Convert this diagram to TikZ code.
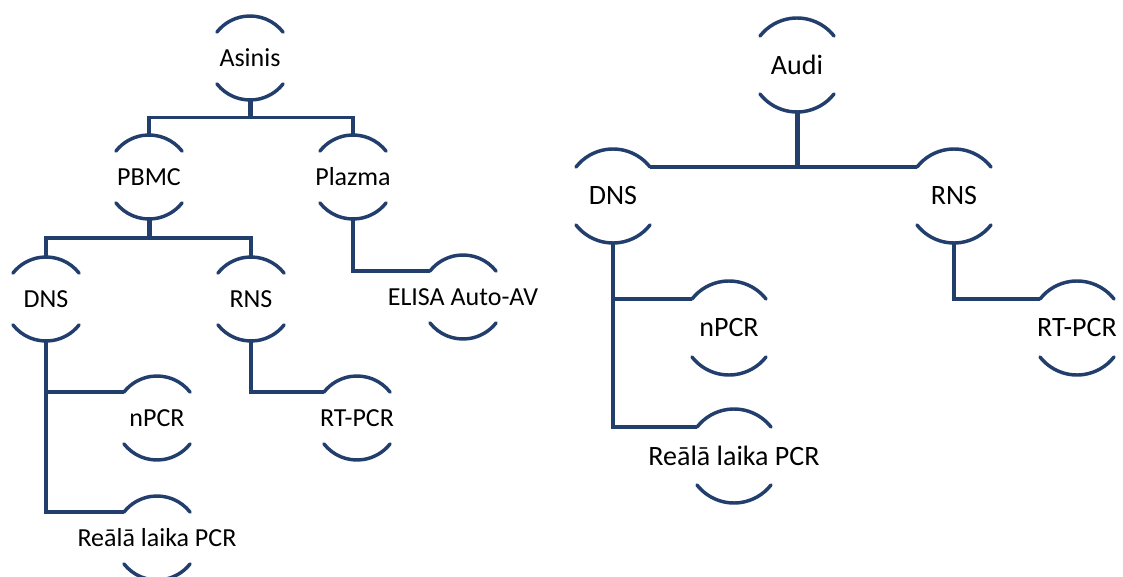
\documentclass[tikz,border=0pt]{standalone}
\usepackage{fontspec}
\setmainfont{Carlito}
\usepackage{tikz}
\usetikzlibrary{calc}
\definecolor{arcblue}{RGB}{34,62,108}

\begin{document}
\begin{tikzpicture}[x=0.75pt, y=0.75pt,
  lbl/.style={inner sep=0pt, minimum height=63pt, minimum width=49.5pt, font=\fontsize{19.5}{23}\selectfont},
  big/.style={lbl, minimum height=70.5pt, minimum width=55.5pt, font=\fontsize{21}{25}\selectfont},
  rim/.style={draw=arcblue, line width=2.6pt, line cap=round},
  conn/.style={draw=arcblue, line width=2.6pt},
  stem/.style={conn, line width=3.75pt}]
\useasboundingbox (0,0) rectangle (1123,-577);
% ---- left tree: Asinis
\node[lbl] (asinis) at (250,-58) {Asinis};
\node[lbl] (pbmc) at (149,-177) {PBMC};
\node[lbl] (plazma) at (353,-177) {Plazma};
\node[lbl] (dnsL) at (46,-299) {DNS};
\node[lbl] (rnsL) at (251,-299) {RNS};
\node[lbl] (elisa) at (463,-297) {ELISA Auto-AV};
\node[lbl] (npcrL) at (157,-418) {nPCR};
\node[lbl] (realL) at (157,-538) {Reālā laika PCR};
\node[lbl] (rtpcrL) at (357,-418) {RT-PCR};
\foreach \n in {asinis,pbmc,plazma,dnsL,rnsL,elisa,npcrL,realL,rtpcrL}
  \draw[rim] ([shift={(38:42)}]\n.center) arc[start angle=38, end angle=142, radius=31.5pt]
             ([shift={(218:42)}]\n.center) arc[start angle=218, end angle=322, radius=31.5pt];
% connectors
\draw[stem] (asinis.south) -- ($(asinis.south)!.5!(asinis.south |- pbmc.north)$) coordinate (asbar);
\draw[conn] (pbmc.north) |- (asbar) -| (plazma.north);
\draw[stem] (pbmc.south) -- ($(pbmc.south)!.5!(pbmc.south |- dnsL.north)$) coordinate (pbbar);
\draw[conn] (dnsL.north) |- (pbbar) -| (rnsL.north);
\draw[conn] (plazma.south) |- ([shift={(142:42)}]elisa.center);
\draw[conn] (dnsL.south) |- ([shift={(142:42)}]npcrL.center);
\draw[conn] (dnsL.south) |- ([shift={(142:42)}]realL.center);
\draw[conn] (rnsL.south) |- ([shift={(142:42)}]rtpcrL.center);
% ---- right tree: Audi
\node[big] (audi) at (797,-65) {Audi};
\node[big] (dnsR) at (613,-196) {DNS};
\node[big] (rnsR) at (954,-196) {RNS};
\node[big] (npcrR) at (729,-328) {nPCR};
\node[big] (realR) at (734,-456) {Reālā laika PCR};
\node[big] (rtpcrR) at (1077,-328) {RT-PCR};
\foreach \n in {audi,dnsR,rnsR,npcrR,realR,rtpcrR}
  \draw[rim] ([shift={(38:47)}]\n.center) arc[start angle=38, end angle=142, radius=35.25pt]
             ([shift={(218:47)}]\n.center) arc[start angle=218, end angle=322, radius=35.25pt];
% connectors
\draw[conn] ([shift={(38:47)}]dnsR.center) coordinate (dnsbar) -- ([shift={(142:47)}]rnsR.center);
\draw[stem] (audi.south) -- (audi.south |- dnsbar);
\draw[conn] (dnsR.south) |- ([shift={(142:47)}]npcrR.center);
\draw[conn] (dnsR.south) |- ([shift={(142:47)}]realR.center);
\draw[conn] (rnsR.south) |- ([shift={(142:47)}]rtpcrR.center);
\end{tikzpicture}
\end{document}
